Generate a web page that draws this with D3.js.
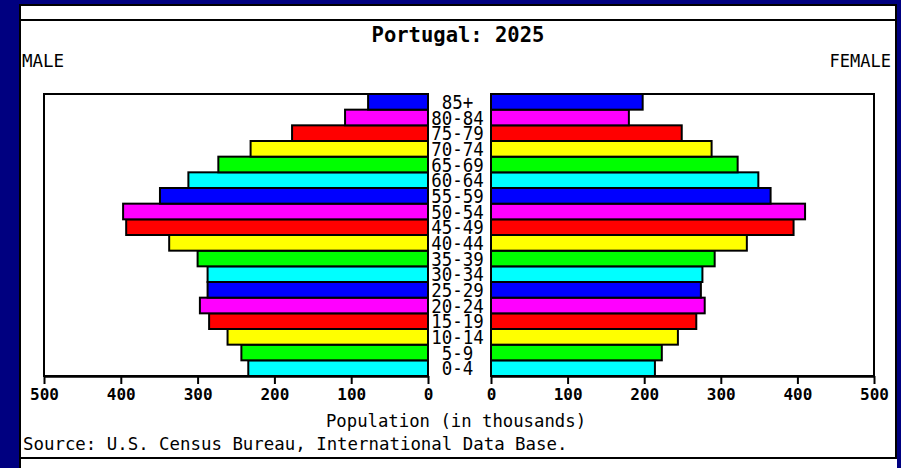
<!DOCTYPE html>
<html>
<head>
<meta charset="utf-8">
<script src="https://cdn.jsdelivr.net/npm/d3@7"></script>
<style>
  body { margin: 0; background: #000080; }
  text { font-family: "DejaVu Sans Mono", monospace; fill: #000; }
</style>
</head>
<body>
<svg id="chart" width="901" height="468"></svg>
<script>
// age groups, bottom to top
const ages = ['0-4', '5-9', '10-14', '15-19', '20-24', '25-29', '30-34', '35-39', '40-44',
  '45-49', '50-54', '55-59', '60-64', '65-69', '70-74', '75-79', '80-84', '85+'];
// population in thousands
const male = [234, 243, 261, 285, 297, 287, 287, 300, 337, 393, 397, 349, 312, 273, 231, 177, 108, 78];
const female = [214, 223, 244, 268, 279, 274, 276, 292, 334, 395, 410, 365, 349, 322, 288, 249, 180, 198];
const ticks = [0, 100, 200, 300, 400, 500];
const palette = ['#00ffff', '#00ff00', '#ffff00', '#ff0000', '#ff00ff', '#0000ff'];

const width = 901, height = 468;
const svg = d3.select('#chart');

// page frame
svg.append('rect').attr('width', width).attr('height', height).attr('fill', '#000080');
svg.append('rect').attr('x', 20).attr('y', 4).attr('width', 877).attr('height', 470)
  .attr('fill', '#fff');
svg.append('path')
  .attr('d', 'M20,474V5H896V458M20,20H896M20,458H897')
  .attr('fill', 'none').attr('stroke', '#000').attr('stroke-width', 2)
  .attr('shape-rendering', 'crispEdges');

// scales
const plotTop = 94, plotBottom = 376;
const y = d3.scaleBand().domain(ages.slice().reverse()).range([plotTop, plotBottom]).paddingInner(0);
const xL = d3.scaleLinear().domain([0, 500]).range([428, 44]);
const xR = d3.scaleLinear().domain([0, 500]).range([491, 874]);

// plot boxes
[[44, 428], [491, 874]].forEach(([a, b]) => {
  svg.append('rect').attr('x', a).attr('y', plotTop).attr('width', b - a).attr('height', plotBottom - plotTop)
    .attr('fill', 'none').attr('stroke', '#000').attr('stroke-width', 2.5)
    .attr('shape-rendering', 'crispEdges');
});

const color = (d, i) => palette[i % palette.length];

// male bars
svg.append('g').selectAll('rect')
  .data(male)
  .enter()
  .append('rect')
  .attr('x', d => xL(d))
  .attr('y', (d, i) => y(ages[i]))
  .attr('width', d => xL(0) - xL(d))
  .attr('height', y.bandwidth())
  .attr('fill', color)
  .attr('stroke', '#000').attr('stroke-width', 2);

// female bars
svg.append('g').selectAll('rect')
  .data(female)
  .enter()
  .append('rect')
  .attr('x', xR(0))
  .attr('y', (d, i) => y(ages[i]))
  .attr('width', d => xR(d) - xR(0))
  .attr('height', y.bandwidth())
  .attr('fill', color)
  .attr('stroke', '#000').attr('stroke-width', 2);

// age labels in the middle
svg.append('g').selectAll('text')
  .data(ages)
  .enter()
  .append('text')
  .attr('transform', d => `translate(457.5,${y(d) + y.bandwidth() / 2}) scale(1,1.15)`)
  .attr('dy', '0.36em')
  .attr('text-anchor', 'middle')
  .style('font-size', '17.5px')
  .text(d => d);

// axes
function drawAxis(scale) {
  const g = svg.append('g')
    .attr('transform', `translate(0,${plotBottom})`)
    .call(d3.axisBottom(scale).tickValues(ticks).tickSize(8).tickSizeOuter(0).tickPadding(5)
      .tickFormat(d3.format('d')));
  g.select('.domain').attr('stroke', '#000').attr('stroke-width', 2.5);
  g.selectAll('.tick line').attr('stroke', '#000').attr('stroke-width', 2);
  g.selectAll('.tick text')
    .attr('fill', '#000')
    .style('font-family', '"DejaVu Sans Mono", monospace')
    .style('font-size', '16px')
    .style('font-weight', 'bold');
}
drawAxis(xL);
drawAxis(xR);

// texts
svg.append('text').attr('x', 458).attr('y', 42).attr('text-anchor', 'middle')
  .style('font-size', '20.5px').style('font-weight', 'bold').text('Portugal: 2025');
svg.append('text').attr('x', 22).attr('y', 67)
  .style('font-size', '17.5px').text('MALE');
svg.append('text').attr('x', 891).attr('y', 67).attr('text-anchor', 'end')
  .style('font-size', '17px').text('FEMALE');
svg.append('text').attr('x', 456).attr('y', 427).attr('text-anchor', 'middle')
  .style('font-size', '17.3px').text('Population (in thousands)');
svg.append('text').attr('x', 23).attr('y', 450)
  .style('font-size', '17.4px').text('Source: U.S. Census Bureau, International Data Base.');
</script>
</body>
</html>
